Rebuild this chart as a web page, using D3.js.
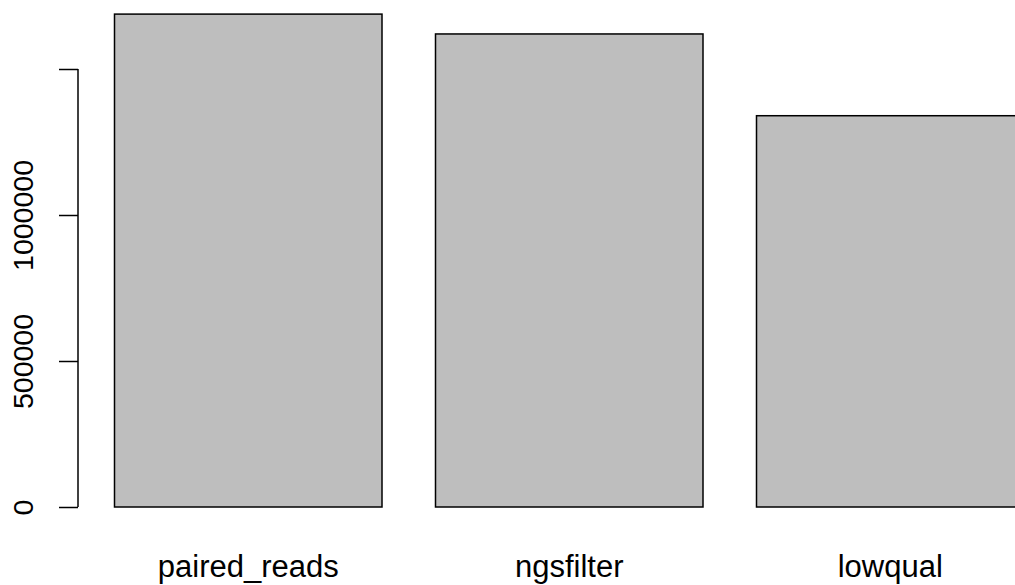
<!DOCTYPE html>
<html><head><meta charset="utf-8">
<script src="https://cdn.jsdelivr.net/npm/d3@7"></script>
<style>body{margin:0;background:#fff}svg{display:block}text{font-family:"Liberation Sans",Arial,sans-serif;fill:#000}</style>
</head><body>
<script>
const categories = ["paired_reads", "ngsfilter", "lowqual"];
const values = [1688000, 1620000, 1340000];
const yTicks = [0, 500000, 1000000, 1500000];
const yTickLabels = ["0", "500000", "1000000", ""];

const W = 1015, H = 585;
const svg = d3.select("body").append("svg").attr("width", W).attr("height", H);

// R barplot coordinates: width 1, space 0.2
const x = d3.scaleLinear().domain([0, 1]).range([61, 328.5]);
const y = d3.scaleLinear().domain([0, 1500000]).range([507, 69]);

const g = svg.append("g");
g.selectAll("rect").data(values).join("rect")
  .attr("x", (d, i) => x(0.2 + i * 1.2))
  .attr("width", (d, i) => x(1.2 + i * 1.2) - x(0.2 + i * 1.2))
  .attr("y", d => y(d))
  .attr("height", d => y(0) - y(d))
  .attr("fill", "#bebebe").attr("stroke", "#000").attr("stroke-width", 1.5);

// category labels
g.selectAll("text.cat").data(categories).join("text").attr("class", "cat")
  .attr("x", (d, i) => x(0.7 + i * 1.2)).attr("y", 577)
  .attr("text-anchor", "middle").attr("font-size", 31).text(d => d);

// y axis
const yAxis = d3.axisLeft(y).tickValues(yTicks).tickSize(19)
  .tickFormat((d, i) => yTickLabels[i]);
const ax = svg.append("g").attr("transform", "translate(78,0)").call(yAxis);
ax.select(".domain").attr("d", `M0,${y(0)}V${y(1500000)}`).attr("stroke-width", 1.5);
ax.selectAll(".tick line").attr("stroke-width", 1.5);
ax.selectAll(".tick text")
  .attr("font-size", 28.5).attr("font-family", '"Liberation Sans",Arial,sans-serif')
  .attr("x", null).attr("dy", null)
  .attr("text-anchor", "middle")
  .attr("transform", "translate(-45,0) rotate(-90)");
</script>
</body></html>
